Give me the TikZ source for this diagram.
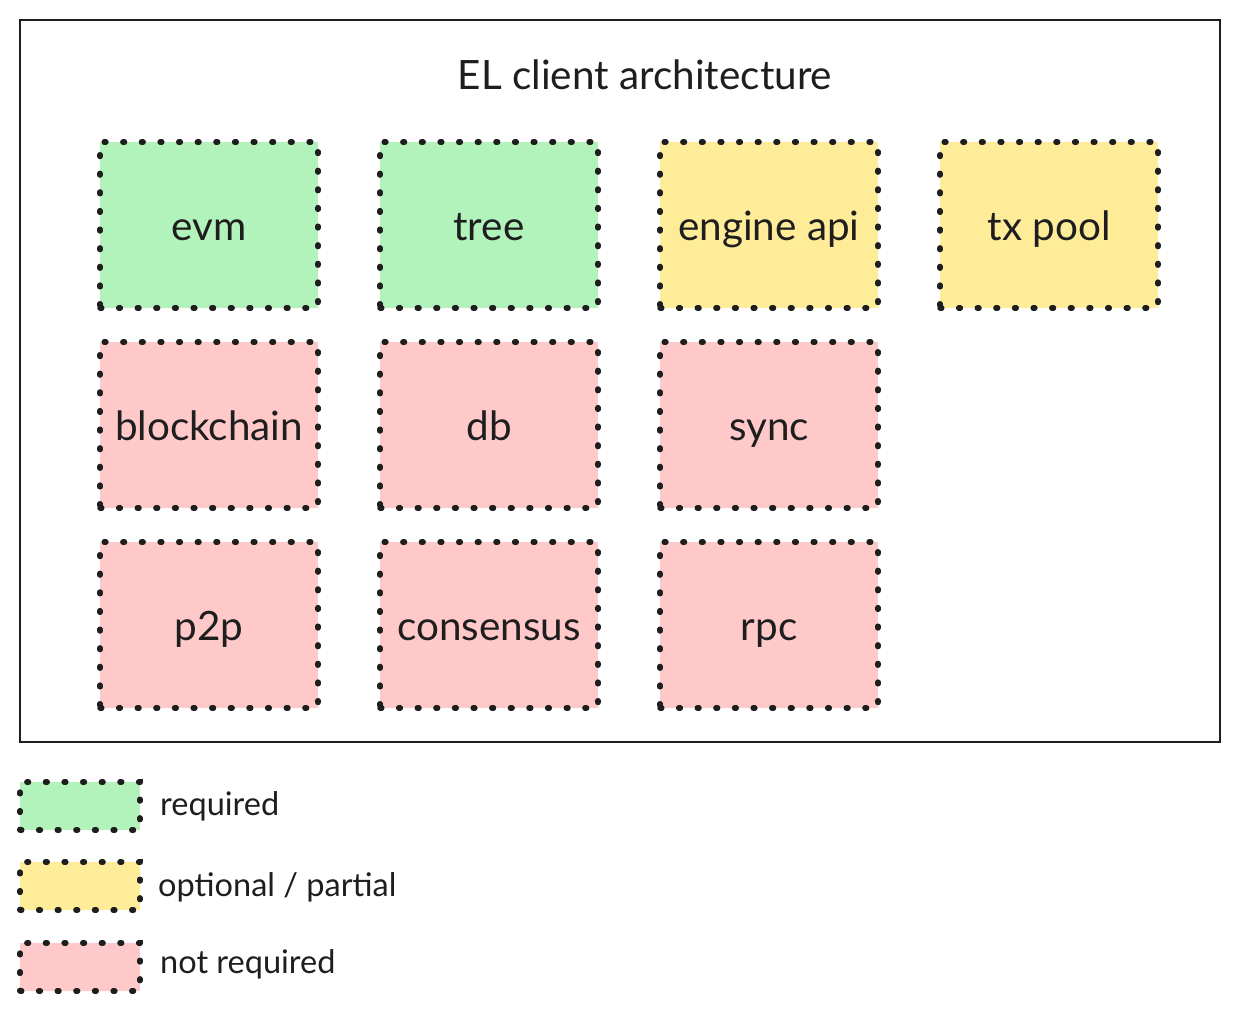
\documentclass[tikz,border=0pt]{standalone}
\usepackage{fontspec}
\setmainfont{Lato}
\usepackage{xcolor}
\definecolor{reqgreen}{HTML}{B2F2BB}
\definecolor{optyellow}{HTML}{FFEC99}
\definecolor{notred}{HTML}{FFC9C9}
\definecolor{inkgray}{HTML}{1E1E1E}
\tikzset{
  dotline/.style={draw=inkgray, line width=3.1pt, line cap=round, dash pattern=on 1pt off 9.6pt},
  part/.style={dotline, minimum width=4.36cm, minimum height=3.32cm, inner sep=0pt, text=inkgray,
    text height=0.7cm, text depth=0.1cm, font=\fontsize{23}{27}\selectfont},
  keybox/.style={dotline, minimum width=2.4cm, minimum height=0.96cm, inner sep=0pt},
  keytext/.style={anchor=west, text=inkgray, font=\fontsize{18.5}{22}\selectfont},
}
\begin{document}
\begin{tikzpicture}[x=0.02cm,y=-0.02cm]
  \useasboundingbox (0,0) rectangle (1240,1011);
  \draw[inkgray, line width=1.1pt] (20,20) rectangle (1220,742);
  \node[text=inkgray, font=\fontsize{23}{27}\selectfont] (title) at (645,75) {EL client architecture};

  % Required
  \node[part, fill=reqgreen] (evm) at (209,225) {evm};
  \node[part, fill=reqgreen] (tree) at (489,225) {tree};

  % Optional / partial
  \node[part, fill=optyellow] (engine) at (769,225) {engine api};
  \node[part, fill=optyellow] (txpool) at (1049,225) {tx pool};

  % Not required
  \node[part, fill=notred] (blockchain) at (209,425) {blockchain};
  \node[part, fill=notred] (db) at (489,425) {db};
  \node[part, fill=notred] (sync) at (769,425) {sync};
  \node[part, fill=notred] (p2p) at (209,625) {p2p};
  \node[part, fill=notred] (consensus) at (489,625) {consensus};
  \node[part, fill=notred] (rpc) at (769,625) {rpc};

  % Legend
  \node[keybox, fill=reqgreen] (keyreq) at (80,806) {};
  \node[keytext] (reqtext) at (154,806) {required};
  \node[keybox, fill=optyellow] (keyopt) at (80,886) {};
  \node[keytext] (opttext) at (152,887) {optional / partial};
  \node[keybox, fill=notred] (keynot) at (80,967) {};
  \node[keytext] (nottext) at (154,964) {not required};
\end{tikzpicture}
\end{document}
